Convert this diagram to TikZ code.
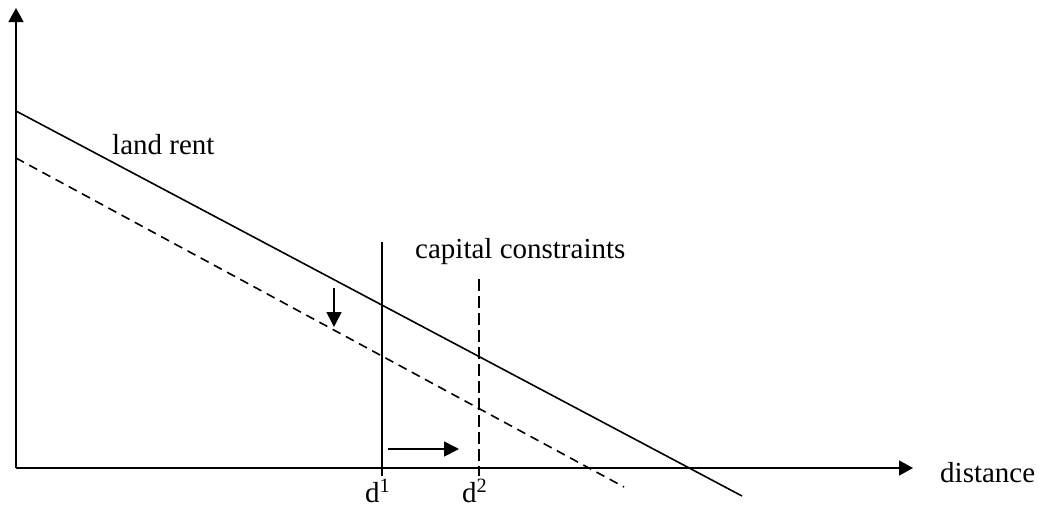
\documentclass[tikz,border=0pt]{standalone}
\usepackage{fontspec}
\setmainfont{Liberation Serif}
\usetikzlibrary{arrows.meta}

\begin{document}
\begin{tikzpicture}[
		x=1pt, y=-1pt,
		font=\fontsize{29}{34}\selectfont,
		curve/.style={line width=1.6pt},
		shifted/.style={curve, dash pattern=on 9pt off 6pt},
		axis/.style={line width=1.6pt, -{Triangle[length=14pt, width=15pt]}},
		arr/.style={line width=1.6pt, -{Triangle[length=15pt, width=15pt]}},
		lbl/.style={inner sep=0pt, anchor=base west}
		]
		\useasboundingbox (0,0) rectangle (1039,507);
		% axes
		\coordinate (origin) at (16,468);
		\coordinate (ytop) at (16,8);
		\coordinate (xend) at (913,468);
		\draw[axis] (origin) -- (ytop);
		\draw[axis] (origin) -- (xend);
		\node[lbl] (dist) at (940,482) {distance};
		% rent curves
		\coordinate (rentA) at (16,111);
		\coordinate (rentB) at (742,496);
		\coordinate (lowA) at (16,158);
		\coordinate (lowB) at (624,487);
		\draw[curve] (rentA) -- (rentB);
		\draw[shifted] (lowA) -- (lowB);
		\node[lbl] (rent) at (112,154) {land rent};
		% boundaries
		\coordinate (d1top) at (382,242);
		\coordinate (d1bot) at (382,476);
		\coordinate (d2top) at (479,279);
		\coordinate (d2bot) at (479,476);
		\draw[curve] (d1top) -- (d1bot);
		\draw[line width=1.6pt, dash pattern=on 12pt off 5pt] (d2top) -- (d2bot);
		\node[lbl] (cap) at (415,258) {capital constraints};
		\node[lbl] (d1) at (365,502) {d\textsuperscript{1}};
		\node[lbl] (d2) at (462,502) {d\textsuperscript{2}};
		% shifts
		\coordinate (downA) at (334,288);
		\coordinate (downB) at (334,327);
		\coordinate (rightA) at (388,449);
		\coordinate (rightB) at (459,449);
		\draw[arr] (downA) -- (downB);
		\draw[arr] (rightA) -- (rightB);
	\end{tikzpicture}
\end{document}
